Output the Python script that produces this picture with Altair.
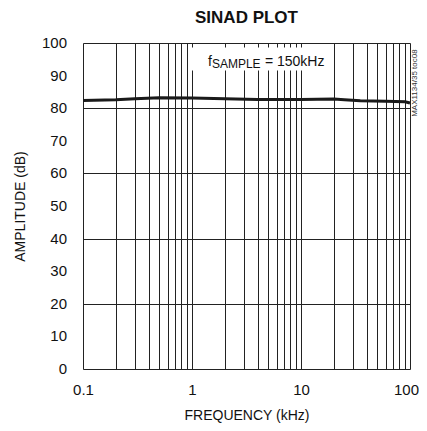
import altair as alt
import pandas as pd

# ---- data ----
freq_khz = [0.1, 0.2, 0.3, 0.5, 1, 2, 4, 10, 20, 25, 35, 60, 90, 100]
sinad_db = [82.4, 82.6, 82.9, 83.2, 83.1, 82.9, 82.7, 82.7, 82.8, 82.6, 82.3, 82.1, 82.0, 81.6]

x_tick_labels = ["0.1", "1", "10", "100"]
x_grid_values = [round(m * 10 ** k, 6) for k in (-1, 0, 1) for m in range(1, 10)] + [100]
y_grid_values = list(range(0, 101, 10))

# annotation box (data coords) and label
box = pd.DataFrame({"x": [1.0], "x2": [18.5], "y": [98.6], "y2": [91.6]})
label_anchor = pd.DataFrame({"f": [1.4], "v": [93.0]})
note = pd.DataFrame({"f": [100], "v": [87.7], "t": ["MAX1134/35 toc08"]})
ylab = pd.DataFrame({"f": [0.1] * len(y_grid_values), "v": y_grid_values,
                     "t": [str(v) for v in y_grid_values]})

df = pd.DataFrame({"freq": freq_khz, "sinad": sinad_db})

FONT = "Liberation Sans, Arial, Helvetica, sans-serif"

label_set = "[" + ",".join("'%s'" % s for s in x_tick_labels) + "]"
x_label_expr = f"indexof({label_set}, format(datum.value, '')) >= 0 ? format(datum.value, '') : ''"

xscale = alt.Scale(type="log", domain=[0.1, 100], nice=False)
yscale = alt.Scale(domain=[0, 100], nice=False)

x_axis = alt.Axis(
    values=x_grid_values, labelExpr=x_label_expr, title="FREQUENCY (kHz)",
    grid=True, gridColor="#222", gridWidth=1, gridOpacity=1,
    ticks=False, domain=False, labelPadding=13, labelFontSize=15, labelFont=FONT,
    labelColor="#111", labelFlush=False, labelOverlap=False,
    labelOffset={"condition": {"test": "datum.value >= 99", "value": -4}, "value": 0},
    titleFont=FONT, titleFontSize=14, titleFontWeight="normal", titleColor="#111",
    titleY=46, titleBaseline="middle",
)
y_axis = alt.Axis(
    values=y_grid_values, title="AMPLITUDE (dB)", labels=False,
    grid=True, gridColor="#222", gridWidth=1, gridOpacity=1,
    ticks=False, domain=False,
    titleFont=FONT, titleFontSize=14, titleFontWeight="normal", titleColor="#111",
    titleX=-63, titleY=163, titleAngle=270, titleAlign="center", titleBaseline="middle",
)

line = alt.Chart(df).mark_line(color="#1a1a1a", strokeWidth=3).encode(
    x=alt.X("freq:Q", scale=xscale, axis=x_axis),
    y=alt.Y("sinad:Q", scale=yscale, axis=y_axis),
)

rect = alt.Chart(box).mark_rect(fill="white").encode(
    x=alt.X("x:Q", scale=xscale), x2="x2:Q",
    y=alt.Y("y:Q", scale=yscale), y2="y2:Q",
)

ylabels = alt.Chart(ylab).mark_text(font=FONT, fontSize=15, align="right",
                                    baseline="middle", dx=-16, color="#111").encode(
    x=alt.X("f:Q", scale=xscale), y=alt.Y("v:Q", scale=yscale), text="t:N"
)

base_txt = alt.Chart(label_anchor).encode(
    x=alt.X("f:Q", scale=xscale), y=alt.Y("v:Q", scale=yscale)
)
t1 = base_txt.mark_text(text="f", font=FONT, fontSize=14, align="left",
                        baseline="alphabetic", color="#111")
t2 = base_txt.mark_text(text="SAMPLE", font=FONT, fontSize=12, align="left",
                        baseline="alphabetic", dx=4, dy=2, color="#111")
t3 = base_txt.mark_text(text="= 150kHz", font=FONT, fontSize=14, align="left",
                        baseline="alphabetic", dx=57, color="#111")

note_txt = alt.Chart(note).mark_text(font=FONT, fontSize=8, angle=270, align="center",
                                     baseline="middle", dy=5, color="#333").encode(
    x=alt.X("f:Q", scale=xscale), y=alt.Y("v:Q", scale=yscale), text="t:N"
)

chart = alt.layer(rect, line, ylabels, t1, t2, t3, note_txt).properties(
    width=327, height=326,
    title=alt.TitleParams("SINAD PLOT", font=FONT, fontSize=17, fontWeight="bold",
                          color="#111", anchor="middle", offset=9),
    autosize=alt.AutoSizeParams(type="none"),
    padding={"left": 75, "top": 35, "right": 9, "bottom": 54},
).configure_view(stroke="black", strokeWidth=3).configure(background="white")

chart.save("out.html", embed_options={"renderer": "svg", "actions": False})
